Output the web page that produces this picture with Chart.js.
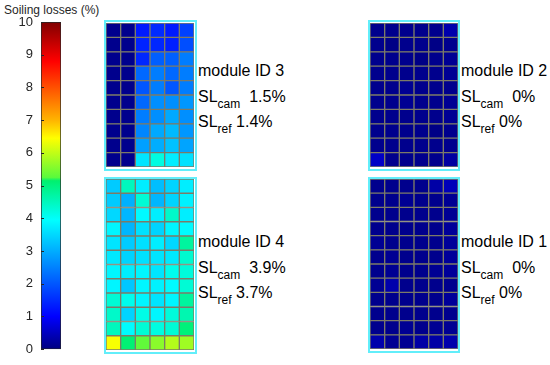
<!DOCTYPE html>
<html>
<head>
<meta charset="utf-8">
<script src="https://cdn.jsdelivr.net/npm/chart.js@4"></script>
<style>
    body { margin: 0; background: #fff; font-family: "Liberation Sans", Arial, sans-serif; }
    #fig { position: relative; width: 550px; height: 365px; overflow: hidden; }
    canvas, .box, .lbl, #cbTitle { position: absolute; }
    .box { border: 2px solid #62eefa; box-sizing: border-box; }
    .lbl { font-size: 16px; line-height: 16px; color: #000; white-space: nowrap; }
    .lbl sub { font-size: 12px; vertical-align: -6px; line-height: 0; }
    #cbTitle { left: 4px; top: 3px; font-size: 12px; color: #262626; }
</style>
</head>
<body>
<div id="fig">
    <div id="cbTitle">Soiling losses (%)</div>
    <canvas id="colorbar" width="70" height="365" style="left:0;top:0"></canvas>
</div>

<script>
// ================================
// Data
// ================================
const cbTicks = [0, 1, 2, 3, 4, 5, 6, 7, 8, 9, 10];

const moduleIds = [3, 2, 4, 1];
const slCam = ['1.5%', '0%', '3.9%', '0%'];
const slRef = ['1.4%', '0%', '3.7%', '0%'];

// soiling loss per cell (%), top row first
const module3 = [
    [0.1, 0.1, 1.3, 1.5, 1.3, 1.75],
    [0.1, 0.1, 1.4, 1.45, 1.35, 1.9],
    [0.1, 0.1, 1.45, 2.1, 2.1, 2.45],
    [0.1, 0.1, 2.2, 2.45, 2.2, 2.45],
    [0.1, 0.1, 2.0, 2.45, 2.0, 2.45],
    [0.1, 0.1, 2.2, 2.65, 2.65, 2.75],
    [0.1, 0.1, 2.45, 2.65, 2.95, 2.65],
    [0.1, 0.1, 2.55, 2.95, 3.15, 2.75],
    [0.1, 0.1, 2.85, 3.0, 3.25, 2.9],
    [0.1, 0.1, 3.65, 4.2, 3.75, 3.6]
];

const module2 = [
    [0.1, 0.1, 0.1, 0.1, 0.1, 0.35],
    [0.1, 0.05, 0.1, 0.1, 0.05, 0.1],
    [0.1, 0.1, 0.1, 0.05, 0.1, 0.15],
    [0.1, 0.1, 0.1, 0.1, 0.1, 0.15],
    [0.1, 0.1, 0.15, 0.1, 0.1, 0.1],
    [0.1, 0.1, 0.15, 0.1, 0.1, 0.15],
    [0.1, 0.1, 0.1, 0.1, 0.1, 0.15],
    [0.1, 0.1, 0.1, 0.1, 0.05, 0.1],
    [0.1, 0.1, 0.1, 0.1, 0.1, 0.1],
    [0.55, 0.1, 0.1, 0.1, 0.1, 0.25]
];

const module4 = [
    [3.35, 4.5, 3.75, 3.2, 3.45, 3.75],
    [3.35, 3.05, 4.3, 3.1, 3.45, 3.8],
    [3.5, 3.1, 3.9, 3.75, 4.4, 3.75],
    [3.85, 3.1, 3.6, 3.45, 3.85, 3.9],
    [3.65, 3.35, 3.6, 3.75, 3.5, 4.75],
    [3.7, 3.45, 3.6, 3.65, 3.7, 4.35],
    [3.85, 3.75, 3.85, 3.65, 4.1, 4.25],
    [3.85, 3.3, 3.85, 3.8, 3.9, 4.3],
    [4.3, 4.1, 3.85, 3.65, 3.85, 4.75],
    [4.4, 3.45, 4.15, 3.85, 4.25, 4.6],
    [4.5, 3.9, 4.3, 4.2, 4.3, 5.05],
    [6.4, 5.1, 5.3, 5.6, 5.9, 5.75]
];

const module1 = [
    [0.1, 0.1, 0.1, 0.1, 0.3, 0.45],
    [0.1, 0.1, 0.15, 0.1, 0.1, 0.15],
    [0.1, 0.1, 0.1, 0.1, 0.1, 0.15],
    [0.1, 0.1, 0.1, 0.1, 0.1, 0.2],
    [0.15, 0.1, 0.1, 0.1, 0.1, 0.2],
    [0.1, 0.15, 0.1, 0.1, 0.1, 0.2],
    [0.1, 0.15, 0.1, 0.1, 0.15, 0.2],
    [0.15, 0.35, 0.1, 0.1, 0.1, 0.1],
    [0.1, 0.1, 0.1, 0.1, 0.1, 0.2],
    [0.1, 0.1, 0.1, 0.1, 0.1, 0.1],
    [0.1, 0.1, 0.15, 0.1, 0.15, 0.15],
    [0.35, 0.15, 0.15, 0.3, 0.3, 0.35]
];

const moduleCells = [module3, module2, module4, module1];

// ================================
// Layout (px)
// ================================
const panels = [
    { box: [104, 20, 93, 151], cells: [106, 23, 88, 144], text: [198, 72] },
    { box: [368, 20, 92, 151], cells: [370, 23, 88, 144], text: [461, 72] },
    { box: [104, 177, 93, 177], cells: [106, 179, 88, 171], text: [198, 243] },
    { box: [368, 177, 92, 176], cells: [370, 179, 88, 170], text: [461, 243] }
];

// jet-like colour map, value -> rgb
const cmap = [
    [0, [0, 0, 128]],
    [1.0, [0, 0, 255]],
    [3.95, [0, 255, 255]],
    [5.15, [0, 240, 110]],
    [5.25, [90, 250, 60]],
    [6.45, [255, 255, 0]],
    [7.0, [255, 180, 0]],
    [8.8, [255, 0, 0]],
    [10, [128, 0, 0]]
];

function colorAt(v) {
    for (let i = 1; i < cmap.length; i++) {
        const [v1, c1] = cmap[i];
        const [v0, c0] = cmap[i - 1];
        if (v <= v1) {
            const t = (v - v0) / (v1 - v0);
            const c = c0.map((a, k) => Math.round(a + (c1[k] - a) * t));
            return `rgb(${c[0]},${c[1]},${c[2]})`;
        }
    }
    return 'rgb(128,0,0)';
}

const fig = document.getElementById('fig');

// ================================
// Colorbar
// ================================
const cbTicksPlugin = {
    id: 'cbTicks',
    afterDatasetsDraw(chart) {
        const { ctx, chartArea } = chart;
        const y = chart.scales.y;
        ctx.save();
        ctx.strokeStyle = '#262626';
        ctx.lineWidth = 1;
        cbTicks.forEach(t => {
            const py = Math.round(y.getPixelForValue(t)) + 0.5;
            ctx.beginPath();
            ctx.moveTo(chartArea.left, py);
            ctx.lineTo(chartArea.left + 3, py);
            ctx.stroke();
        });
        ctx.restore();
    }
};

new Chart(document.getElementById('colorbar'), {
    type: 'bar',
    data: {
        labels: [''],
        datasets: [{
            data: [[cbTicks[0], cbTicks[cbTicks.length - 1]]],
            backgroundColor: (c) => {
                const area = c.chart.chartArea;
                if (!area) return '#000';
                const g = c.chart.ctx.createLinearGradient(0, area.bottom, 0, area.top);
                cmap.forEach(([v, col]) => g.addColorStop(v / 10, `rgb(${col.join(',')})`));
                return g;
            },
            borderColor: '#262626',
            borderWidth: 1,
            borderSkipped: false,
            barPercentage: 1,
            categoryPercentage: 1
        }]
    },
    options: {
        responsive: false,
        animation: false,
        devicePixelRatio: 1,
        layout: { padding: { top: 22, bottom: 13, left: 0, right: 9 } },
        plugins: { legend: { display: false }, tooltip: { enabled: false } },
        scales: {
            x: { display: false },
            y: {
                min: 0,
                max: 10,
                afterFit: (s) => { s.width = 41; },
                afterBuildTicks: (s) => { s.ticks = cbTicks.map(v => ({ value: v })); },
                ticks: {
                    color: '#262626',
                    padding: 8,
                    font: { size: 13, family: '"Liberation Sans", Arial, sans-serif' }
                },
                grid: { display: false, drawTicks: false },
                border: { display: false }
            }
        }
    },
    plugins: [cbTicksPlugin]
});

// ================================
// Module heat maps
// ================================
function drawModule(i) {
    const cells = moduleCells[i];
    const p = panels[i];
    const nRows = cells.length;

    const box = document.createElement('div');
    box.className = 'box';
    box.style.cssText = `left:${p.box[0]}px;top:${p.box[1]}px;width:${p.box[2]}px;height:${p.box[3]}px`;
    fig.appendChild(box);

    const cv = document.createElement('canvas');
    cv.width = p.cells[2];
    cv.height = p.cells[3];
    cv.style.cssText = `left:${p.cells[0]}px;top:${p.cells[1]}px`;
    fig.appendChild(cv);

    const datasets = [];
    for (let r = nRows - 1; r >= 0; r--) {
        datasets.push({
            data: cells[r].map(() => 1),
            backgroundColor: cells[r].map(v => colorAt(v)),
            borderColor: '#7c7b68',
            borderWidth: 1,
            borderSkipped: false,
            barPercentage: 1,
            categoryPercentage: 1
        });
    }

    new Chart(cv, {
        type: 'bar',
        data: { labels: cells[0].map((_, k) => k + 1), datasets },
        options: {
            responsive: false,
            animation: false,
            devicePixelRatio: 1,
            layout: { padding: 0 },
            plugins: { legend: { display: false }, tooltip: { enabled: false } },
            scales: {
                x: { stacked: true, display: false },
                y: { stacked: true, display: false, min: 0, max: nRows }
            }
        }
    });

    // labels
    const lines = [
        `module ID ${moduleIds[i]}`,
        `SL<sub>cam</sub>&nbsp; ${slCam[i]}`,
        `SL<sub>ref</sub> ${slRef[i]}`
    ];
    lines.forEach((html, k) => {
        const d = document.createElement('div');
        d.className = 'lbl';
        d.innerHTML = html;
        d.style.left = p.text[0] + 'px';
        d.style.top = (p.text[1] + k * 25.5 - 9) + 'px';
        fig.appendChild(d);
    });
}

document.addEventListener('DOMContentLoaded', () => {
    for (let i = 0; i < moduleCells.length; i++) drawModule(i);
});
</script>
</body>
</html>
